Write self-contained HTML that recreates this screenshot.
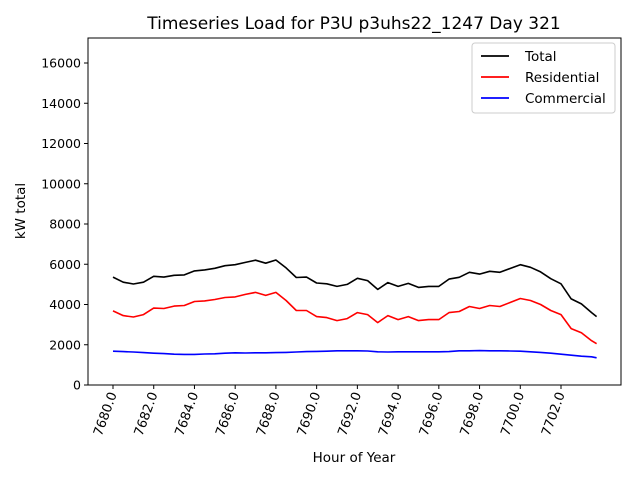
<!DOCTYPE html>
<html><head><meta charset="utf-8"><style>body{margin:0;background:#fff}svg{font-family:"DejaVu Sans","Liberation Sans",sans-serif}</style></head>
<body>
<svg id="chart" width="640" height="480" xmlns="http://www.w3.org/2000/svg"></svg>
<script>
const hours=[7680,7680.5,7681,7681.5,7682,7682.5,7683,7683.5,7684,7684.5,7685,7685.5,7686,7686.5,7687,7687.5,7688,7688.5,7689,7689.5,7690,7690.5,7691,7691.5,7692,7692.5,7693,7693.5,7694,7694.5,7695,7695.5,7696,7696.5,7697,7697.5,7698,7698.5,7699,7699.5,7700,7700.5,7701,7701.5,7702,7702.5,7703,7703.5,7703.75];
const totalLoad=[5360,5110,5020,5110,5400,5360,5450,5470,5670,5720,5800,5930,5980,6090,6200,6050,6210,5820,5340,5360,5070,5030,4900,5000,5300,5190,4750,5090,4900,5050,4850,4900,4900,5260,5350,5600,5510,5650,5600,5790,5980,5850,5620,5280,5030,4280,4030,3600,3400];
const residentialLoad=[3680,3450,3380,3500,3820,3800,3920,3950,4150,4180,4250,4350,4380,4500,4600,4450,4600,4200,3700,3700,3400,3350,3200,3300,3600,3500,3100,3450,3250,3400,3200,3250,3250,3600,3650,3900,3800,3950,3900,4100,4300,4200,4000,3700,3500,2800,2600,2200,2050];
const commercialLoad=[1680,1660,1640,1610,1580,1560,1530,1520,1520,1540,1550,1580,1600,1590,1600,1600,1610,1620,1640,1660,1670,1680,1700,1700,1700,1690,1650,1640,1650,1650,1650,1650,1650,1660,1700,1700,1710,1700,1700,1690,1680,1650,1620,1580,1530,1480,1430,1400,1350];
const xTicks=[7680,7682,7684,7686,7688,7690,7692,7694,7696,7698,7700,7702];
const yTicks=[0,2000,4000,6000,8000,10000,12000,14000,16000];

const L=88,R=621,T=38,B=385;
const xScale=h=>113+(h-7680)*20.364;
const yScale=v=>385-v*0.020125;
const svg=document.getElementById('chart');
const NS='http://www.w3.org/2000/svg';
function mk(tag,attrs,parent){const e=document.createElementNS(NS,tag);for(const k in attrs)e.setAttribute(k,attrs[k]);(parent||svg).appendChild(e);return e;}

let t=mk('text',{x:354,y:29,'font-size':17,'text-anchor':'middle'});t.textContent='Timeseries Load for P3U p3uhs22_1247  Day 321';



xTicks.forEach(v=>{const x=xScale(v);
 const l=mk('line',{x1:x,x2:x,y1:B,y2:B+4,stroke:'#000'});
 
 
 const tx=mk('text',{x:0,y:0,'font-size':13,'text-anchor':'end',transform:`translate(${x+4},${B+9}) rotate(-70)`});tx.textContent=v.toFixed(1);
 
 
});
yTicks.forEach(v=>{const y=yScale(v);
 const l=mk('line',{x1:L-4,x2:L,y1:y,y2:y,stroke:'#000'});
 
 
 const tx=mk('text',{x:L-7,y:y+4.5,'font-size':12.5,'text-anchor':'end'});tx.textContent=v;
 
 
});
t=mk('text',{x:354,y:462,'font-size':13.5,'text-anchor':'middle'});t.textContent='Hour of Year';


t=mk('text',{x:0,y:0,'font-size':13.5,'text-anchor':'middle',transform:'translate(25,211) rotate(-90)'});t.textContent='kW total';



function line(vals,color,name){const d=vals.map((v,i)=>(i?'L':'M')+xScale(hours[i]).toFixed(1)+','+yScale(v).toFixed(1)).join('');
 const p=mk('path',{d,fill:'none',stroke:color,'stroke-width':1.6,'stroke-linejoin':'round'});
 
 }
line(totalLoad,'#000','total-line');
line(residentialLoad,'#f00','residential-line');
line(commercialLoad,'#00f','commercial-line');

const fr=mk('rect',{x:L,y:T,width:R-L,height:B-T,fill:'none',stroke:'#000','stroke-width':1});



const lg=mk('g',{});


mk('rect',{x:472,y:43,width:143,height:70,rx:3,fill:'#fff',stroke:'#ccc'},lg);
[['Total','#000',56],['Residential','#f00',77],['Commercial','#00f',98]].forEach(([n,c,y])=>{
 const g=mk('g',{},lg);
 
 
 mk('line',{x1:481,x2:509,y1:y,y2:y,stroke:c,'stroke-width':1.8},g);
 const tx=mk('text',{x:525,y:y+5,'font-size':13.5},g);tx.textContent=n;
});
</script>
</body></html>
